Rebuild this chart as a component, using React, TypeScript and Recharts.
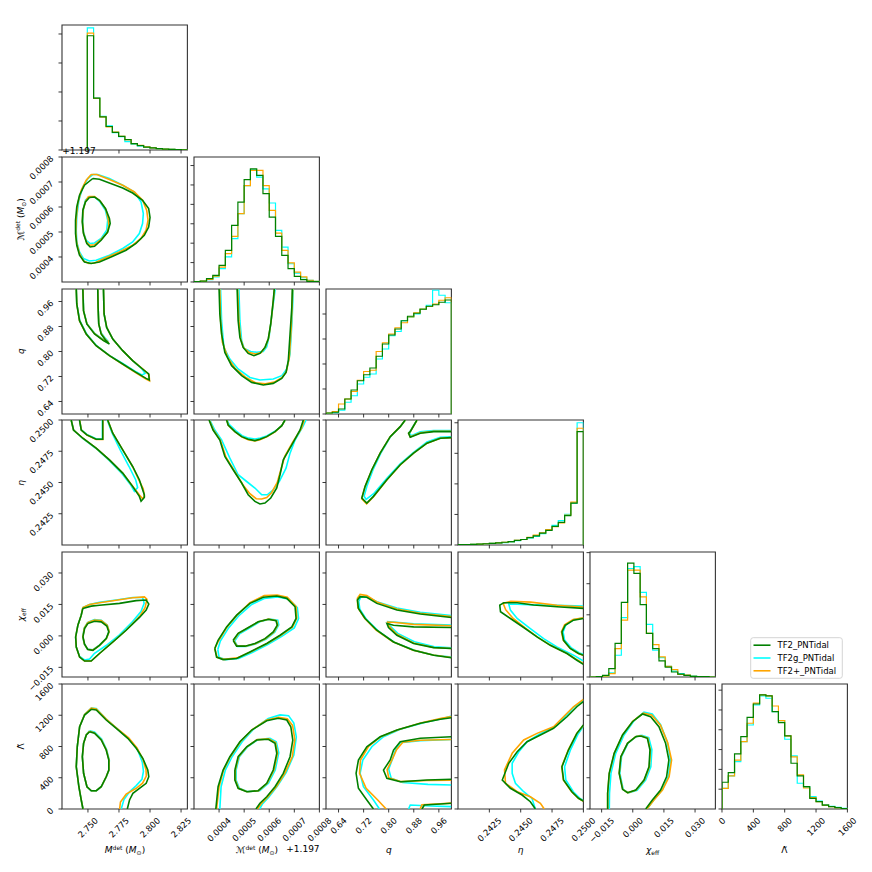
import React from 'react';
import { ComposedChart, Line, XAxis, YAxis, ReferenceArea } from 'recharts';

const FONT = 'DejaVu Sans';
const FS = 8.5;
const GREEN = '#008000';
const CYAN = '#00ffff';
const ORANGE = '#ffa500';
const SERIES = ['TF2_PNTidal', 'TF2g_PNTidal', 'TF2+_PNTidal'];

// ---------- axes: ticks and tick labels ----------
const M_TICKS = [2.75, 2.775, 2.8, 2.825];
const M_LABELS = ['2.750', '2.775', '2.800', '2.825'];
const MC_TICKS = [0.0004, 0.0005, 0.0006, 0.0007, 0.0008];
const MC_LABELS = ['0.0004', '0.0005', '0.0006', '0.0007', '0.0008'];
const Q_TICKS = [0.64, 0.72, 0.8, 0.88, 0.96];
const Q_LABELS = ['0.64', '0.72', '0.80', '0.88', '0.96'];
const ETA_TICKS = [0.2425, 0.245, 0.2475, 0.25];
const ETA_LABELS = ['0.2425', '0.2450', '0.2475', '0.2500'];
const CHI_TICKS = [-0.015, 0, 0.015, 0.03];
const CHI_LABELS = ['\u22120.015', '0.000', '0.015', '0.030'];
const LAM_TICKS = [0, 400, 800, 1200, 1600];
const LAM_LABELS = ['0', '400', '800', '1200', '1600'];

// ---------- 1D histograms (bin start, bin width, heights for TF2 / TF2g / TF2+) ----------
const mHistStart = 2.7495, mHistW = 0.00504;
const mHist_G = [3.94, 1.79, 1.14, 0.81, 0.61, 0.47, 0.36, 0.22, 0.15, 0.1, 0.07, 0.045, 0.03, 0.02, 0.01, 0.005];
const mHist_C = [4.21, 1.79, 1.16, 0.83, 0.6, 0.46, 0.29, 0.2, 0.14, 0.1, 0.07, 0.05, 0.03, 0.02, 0.01, 0.005];
const mHist_O = [4.03, 1.78, 1.14, 0.8, 0.62, 0.47, 0.36, 0.22, 0.16, 0.11, 0.07, 0.05, 0.03, 0.02, 0.01, 0.005];

const mcHistStart = 0.0003, mcHistW = 0.000025;
const mcHist_G = [0.02, 0.05, 0.17, 0.34, 0.86, 1.63, 2.92, 4.12, 5.27, 5.83, 5.49, 4.55, 3.34, 2.35, 1.37, 0.69, 0.29, 0.12, 0.03, 0.02];
const mcHist_C = [0.01, 0.03, 0.12, 0.26, 0.69, 1.29, 2.23, 3.52, 4.97, 5.78, 5.4, 4.8, 4.07, 2.66, 1.8, 0.94, 0.46, 0.22, 0.09, 0.03];
const mcHist_O = [0.01, 0.04, 0.14, 0.3, 0.77, 1.46, 2.35, 3.52, 4.97, 5.75, 5.75, 4.97, 3.69, 2.52, 1.63, 0.99, 0.51, 0.26, 0.09, 0.03];

const qHistStart = 0.6, qHistW = 0.02;
const qHist_G = [0.04, 0.07, 0.2, 0.6, 0.96, 1.33, 1.57, 1.84, 2.31, 2.8, 3.16, 3.4, 3.73, 3.91, 4.03, 4.19, 4.31, 4.37, 4.47, 4.56];
const qHist_C = [0.03, 0.05, 0.15, 0.47, 0.73, 1.2, 1.47, 1.6, 2.2, 2.6, 3.13, 3.3, 3.73, 3.87, 4.0, 4.2, 4.35, 4.95, 4.75, 4.45];
const qHist_O = [0.04, 0.1, 0.4, 0.6, 0.9, 1.35, 1.7, 1.75, 2.5, 2.85, 3.2, 3.45, 3.65, 3.88, 4.05, 4.2, 4.3, 4.4, 4.55, 4.65];

const etaHistStart = 0.24, etaHistW = 0.0005;
const etaHist_G = [0.01, 0.015, 0.02, 0.03, 0.04, 0.05, 0.07, 0.09, 0.11, 0.15, 0.18, 0.24, 0.3, 0.39, 0.48, 0.61, 0.74, 0.96, 1.37, 3.71];
const etaHist_C = [0.01, 0.015, 0.02, 0.03, 0.04, 0.05, 0.06, 0.08, 0.1, 0.14, 0.18, 0.23, 0.28, 0.37, 0.5, 0.64, 0.8, 1.0, 1.37, 4.0];
const etaHist_O = [0.01, 0.015, 0.02, 0.03, 0.04, 0.05, 0.07, 0.09, 0.11, 0.15, 0.18, 0.25, 0.32, 0.4, 0.5, 0.6, 0.72, 0.98, 1.4, 3.82];

const chiHistStart = -0.0206, chiHistW = 0.00302;
const chiHist_G = [0, 0.01, 0.05, 0.27, 1.08, 2.4, 3.66, 3.33, 2.33, 1.4, 0.91, 0.52, 0.32, 0.16, 0.09, 0.05, 0.02, 0.01, 0.01, 0];
const chiHist_C = [0, 0.01, 0.02, 0.13, 0.7, 1.91, 3.49, 3.55, 2.72, 1.69, 0.86, 0.62, 0.34, 0.19, 0.11, 0.05, 0.03, 0.01, 0.01, 0];
const chiHist_O = [0, 0.01, 0.03, 0.11, 0.91, 1.83, 3.44, 3.44, 2.58, 1.4, 1.04, 0.65, 0.34, 0.24, 0.08, 0.06, 0.02, 0.01, 0.01, 0];

const lamHistStart = 0, lamHistW = 80;
const lamHist_G = [1.35, 1.84, 2.78, 3.65, 4.63, 5.3, 5.76, 5.71, 4.92, 4.36, 3.69, 2.31, 1.67, 1.13, 0.54, 0.37, 0.2, 0.12, 0.07, 0.02];
const lamHist_C = [1.04, 1.67, 2.39, 3.4, 4.24, 5.25, 5.71, 5.59, 4.92, 4.46, 3.52, 2.68, 1.3, 1.1, 0.62, 0.4, 0.22, 0.13, 0.08, 0.03];
const lamHist_O = [1.04, 1.67, 2.47, 3.4, 4.33, 5.34, 5.76, 5.71, 5.2, 4.46, 3.69, 2.63, 1.72, 1.06, 0.57, 0.37, 0.2, 0.12, 0.07, 0.02];

// ---------- 2D credible contours ([x, y] in data units) ----------
// Mc (offset +1.197) vs Mdet
const mcM_G1 = [[2.7539,0.000714],[2.7593,0.000711],[2.7673,0.000696],[2.778,0.000676],[2.786,0.000656],[2.794,0.000627],[2.7989,0.000594],[2.8,0.000558],[2.7989,0.00052],[2.7954,0.000487],[2.7887,0.000454],[2.7807,0.000427],[2.77,0.000403],[2.7593,0.00038],[2.7526,0.000374],[2.7472,0.00038],[2.7432,0.000407],[2.741,0.000447],[2.74,0.000494],[2.74,0.000547],[2.741,0.0006],[2.7432,0.000647],[2.7472,0.000687],[2.7539,0.000714]];
const mcM_G2 = [[2.7512,0.000638],[2.7553,0.00064],[2.7593,0.000627],[2.7641,0.000594],[2.7673,0.000554],[2.7679,0.000534],[2.7659,0.0005],[2.7606,0.000467],[2.7553,0.000443],[2.7518,0.00044],[2.7491,0.000454],[2.7464,0.000494],[2.7454,0.00054],[2.7459,0.000587],[2.748,0.00062],[2.7512,0.000638]];
const mcM_C1 = [[2.7539,0.00073],[2.7579,0.00073],[2.7673,0.000714],[2.778,0.000687],[2.7874,0.00066],[2.7928,0.00062],[2.7946,0.000574],[2.794,0.000534],[2.7914,0.000494],[2.786,0.00046],[2.778,0.000434],[2.7673,0.000407],[2.7566,0.000387],[2.7512,0.000384],[2.7464,0.000394],[2.7432,0.00042],[2.741,0.00046],[2.7406,0.000507],[2.741,0.00056],[2.7427,0.000627],[2.7459,0.00068],[2.7499,0.000714],[2.7539,0.00073]];
const mcM_C2 = [[2.7507,0.00064],[2.7553,0.00064],[2.7598,0.00062],[2.7641,0.000587],[2.7659,0.000547],[2.7651,0.000507],[2.7606,0.000474],[2.7553,0.000456],[2.7518,0.000454],[2.7486,0.000467],[2.7464,0.0005],[2.7459,0.000547],[2.7464,0.000594],[2.748,0.000627],[2.7507,0.00064]];
const mcM_O1 = [[2.7526,0.00073],[2.7571,0.00073],[2.7673,0.00071],[2.778,0.000687],[2.7874,0.00066],[2.794,0.000627],[2.7973,0.000587],[2.7984,0.000547],[2.7968,0.000507],[2.7928,0.000474],[2.786,0.000447],[2.7753,0.00042],[2.7647,0.000398],[2.7553,0.000376],[2.7507,0.000374],[2.7464,0.000384],[2.7432,0.000414],[2.741,0.000454],[2.7402,0.0005],[2.7406,0.000554],[2.7418,0.000614],[2.7446,0.000667],[2.7486,0.000707],[2.7526,0.00073]];
const mcM_O2 = [[2.7505,0.000642],[2.7553,0.000642],[2.7601,0.000622],[2.7645,0.00059],[2.7664,0.00055],[2.7668,0.000525],[2.7655,0.000497],[2.7604,0.00047],[2.7553,0.000449],[2.7515,0.000447],[2.7488,0.00046],[2.7464,0.000497],[2.7456,0.000545],[2.7462,0.00059],[2.7482,0.000625],[2.7505,0.000642]];

// q vs Mdet
const qM_G1 = [[2.7406,1.0],[2.741,0.952],[2.7432,0.8986],[2.7486,0.856],[2.7566,0.8186],[2.7673,0.7866],[2.778,0.76],[2.7887,0.7331],[2.7968,0.7139],[2.7994,0.7088],[2.7989,0.728],[2.794,0.744],[2.786,0.7706],[2.778,0.8026],[2.77,0.84],[2.7651,0.8771],[2.763,0.92],[2.7625,1.0]];
const qM_G2 = [[2.7459,1.0],[2.7464,0.9306],[2.7491,0.888],[2.7553,0.856],[2.7625,0.8346],[2.7673,0.824],[2.7641,0.8368],[2.7606,0.856],[2.7587,0.888],[2.7582,0.9411],[2.7579,1.0]];
const qM_C1 = [[2.7406,1.0],[2.741,0.952],[2.7435,0.8986],[2.749,0.856],[2.757,0.8186],[2.7675,0.7866],[2.778,0.762],[2.7875,0.738],[2.7935,0.725],[2.796,0.73],[2.7935,0.744],[2.786,0.7706],[2.778,0.8026],[2.77,0.84],[2.765,0.8771],[2.763,0.92],[2.7625,1.0]];
const qM_C2 = [[2.7459,1.0],[2.7466,0.93],[2.7493,0.888],[2.7555,0.858],[2.7625,0.838],[2.7655,0.836],[2.7635,0.845],[2.7606,0.86],[2.7587,0.888],[2.7582,0.9411],[2.7579,1.0]];
const qM_O1 = [[2.7406,1.0],[2.741,0.952],[2.7432,0.8986],[2.7486,0.856],[2.7566,0.8186],[2.7673,0.7866],[2.778,0.759],[2.7887,0.732],[2.7968,0.712],[2.7996,0.706],[2.7992,0.726],[2.7945,0.743],[2.786,0.7706],[2.778,0.8026],[2.77,0.84],[2.7651,0.8771],[2.763,0.92],[2.7625,1.0]];
const qM_O2 = [[2.7459,1.0],[2.7465,0.93],[2.7492,0.888],[2.7554,0.857],[2.7625,0.836],[2.7665,0.829],[2.7638,0.84],[2.7606,0.858],[2.7587,0.888],[2.7582,0.9411],[2.7579,1.0]];

// eta vs Mdet
const etaM_G1 = [[2.7365,0.25],[2.7384,0.2492],[2.7459,0.24854],[2.7566,0.24775],[2.7673,0.24681],[2.778,0.24575],[2.786,0.24469],[2.7914,0.24389],[2.7928,0.2435],[2.7954,0.2438],[2.7954,0.24402],[2.7914,0.24522],[2.786,0.24628],[2.778,0.24761],[2.77,0.24894],[2.7659,0.25]];
const etaM_G2 = [[2.7432,0.25],[2.7446,0.2492],[2.7491,0.24881],[2.7566,0.24846],[2.7619,0.24846],[2.7619,0.25]];
const etaM_C1 = [[2.7365,0.25],[2.7384,0.2492],[2.746,0.2485],[2.7566,0.24772],[2.7673,0.24675],[2.7775,0.2457],[2.7845,0.2448],[2.7874,0.2443],[2.79,0.2446],[2.7885,0.2452],[2.783,0.2463],[2.776,0.24761],[2.7695,0.24894],[2.7655,0.25]];
const etaM_C2 = [[2.7432,0.25],[2.7447,0.2492],[2.7492,0.24885],[2.7566,0.2485],[2.7617,0.2485],[2.7617,0.25]];
const etaM_O1 = [[2.7365,0.25],[2.7384,0.2492],[2.7459,0.24854],[2.7566,0.24775],[2.7673,0.24681],[2.778,0.24575],[2.786,0.2447],[2.7915,0.244],[2.794,0.2437],[2.7955,0.2439],[2.7945,0.2445],[2.7905,0.2453],[2.786,0.24628],[2.778,0.24761],[2.77,0.24894],[2.7659,0.25]];
const etaM_O2 = [[2.7433,0.25],[2.7447,0.2492],[2.7492,0.2488],[2.7566,0.24844],[2.762,0.24844],[2.762,0.25]];

// chi_eff vs Mdet
const chiM_G1 = [[2.7459,0.0131],[2.7526,0.0142],[2.7593,0.0146],[2.7754,0.0155],[2.7888,0.0168],[2.7969,0.0171],[2.799,0.0152],[2.7969,0.0123],[2.7915,0.0088],[2.7808,0.0027],[2.7701,-0.0029],[2.7593,-0.0084],[2.7526,-0.012],[2.7473,-0.012],[2.7433,-0.0101],[2.7406,-0.0053],[2.7401,-0.0005],[2.7419,0.0051],[2.7446,0.0099],[2.7459,0.0131]];
const chiM_G2 = [[2.7499,0.0059],[2.7553,0.007],[2.7607,0.0067],[2.7652,0.0047],[2.7668,0.0019],[2.7647,-0.0013],[2.7593,-0.0045],[2.754,-0.0069],[2.7499,-0.0065],[2.7473,-0.004],[2.746,-0.0005],[2.7473,0.0035],[2.7499,0.0059]];
const chiM_C1 = [[2.7446,0.0099],[2.7459,0.0135],[2.7513,0.015],[2.7593,0.016],[2.7727,0.0171],[2.786,0.0183],[2.794,0.0183],[2.7953,0.0156],[2.7927,0.0116],[2.786,0.0068],[2.7754,0.0005],[2.7647,-0.0046],[2.7553,-0.0083],[2.7513,-0.011],[2.7473,-0.0115],[2.7433,-0.0098],[2.7406,-0.0053],[2.7401,-0.0005],[2.7419,0.0051],[2.7446,0.0099]];
const chiM_C2 = [[2.7499,0.0065],[2.7553,0.0078],[2.7607,0.0075],[2.7655,0.0052],[2.767,0.0022],[2.765,-0.001],[2.7595,-0.0043],[2.754,-0.0066],[2.7495,-0.0063],[2.747,-0.0038],[2.7458,-0.0003],[2.747,0.0038],[2.7499,0.0065]];
const chiM_O1 = [[2.7446,0.0099],[2.7459,0.0135],[2.7513,0.015],[2.7593,0.0158],[2.7727,0.017],[2.786,0.0182],[2.7955,0.0186],[2.7975,0.0175],[2.796,0.0135],[2.7915,0.0092],[2.7808,0.0028],[2.7701,-0.0029],[2.7593,-0.0084],[2.7526,-0.012],[2.7473,-0.012],[2.7433,-0.0101],[2.7406,-0.0053],[2.7401,-0.0005],[2.7419,0.0051],[2.7446,0.0099]];
const chiM_O2 = [[2.7499,0.0064],[2.7553,0.0076],[2.7607,0.0073],[2.7655,0.0051],[2.7671,0.0021],[2.765,-0.0011],[2.7595,-0.0044],[2.754,-0.0067],[2.7497,-0.0064],[2.7471,-0.0039],[2.7459,-0.0004],[2.7471,0.0037],[2.7499,0.0064]];

// Lambda vs Mdet
const lamM_G1 = [[2.746,0],[2.7446,115],[2.7427,285],[2.7406,541],[2.7414,797],[2.7433,1053],[2.7473,1203],[2.7527,1276],[2.7567,1267],[2.7647,1139],[2.7728,1033],[2.7821,905],[2.7889,777],[2.7942,649],[2.7982,499],[2.799,413],[2.7969,329],[2.7915,265],[2.7862,201],[2.7835,115],[2.7817,0]];
const lamM_G2 = [[2.7513,989],[2.7553,969],[2.7607,883],[2.7647,755],[2.7668,627],[2.7668,499],[2.7647,413],[2.7607,285],[2.7567,234],[2.7527,234],[2.7492,285],[2.7465,457],[2.7455,669],[2.7465,841],[2.7487,947],[2.7513,989]];
const lamM_C1 = [[2.746,0],[2.7446,115],[2.7427,285],[2.7406,541],[2.7414,797],[2.7433,1053],[2.7473,1210],[2.7527,1292],[2.7567,1285],[2.7647,1150],[2.7728,1040],[2.7835,890],[2.79,760],[2.7938,600],[2.7947,480],[2.7935,380],[2.7889,300],[2.7835,220],[2.779,120],[2.7768,0]];
const lamM_C2 = [[2.7513,1000],[2.7553,985],[2.761,895],[2.765,760],[2.7672,627],[2.767,499],[2.7648,410],[2.7607,285],[2.7567,232],[2.7527,232],[2.7492,285],[2.7465,457],[2.7455,669],[2.7465,845],[2.7487,955],[2.7513,1000]];
const lamM_O1 = [[2.746,0],[2.7446,115],[2.7427,285],[2.7406,541],[2.7414,797],[2.7433,1053],[2.7473,1210],[2.7527,1292],[2.7567,1280],[2.7647,1150],[2.7728,1040],[2.7828,910],[2.7895,780],[2.7942,640],[2.7968,500],[2.797,420],[2.794,330],[2.7889,265],[2.7808,190],[2.7762,90],[2.7755,0]];
const lamM_O2 = [[2.7513,995],[2.7553,975],[2.7608,888],[2.7648,757],[2.767,627],[2.7669,499],[2.7647,412],[2.7607,285],[2.7567,233],[2.7527,233],[2.7492,285],[2.7465,457],[2.7455,669],[2.7465,843],[2.7487,950],[2.7513,995]];

// q vs Mc
const qMc_G1 = [[0.0004,1.0],[0.000403,0.92],[0.00041,0.856],[0.000423,0.797],[0.00045,0.7546],[0.00049,0.7226],[0.00053,0.7011],[0.000576,0.6928],[0.000616,0.6979],[0.00065,0.7139],[0.000667,0.7331],[0.000676,0.7706],[0.000683,0.856],[0.00069,0.9411],[0.000692,1.0]];
const qMc_G2 = [[0.000472,1.0],[0.000476,0.8986],[0.000483,0.8451],[0.000496,0.8131],[0.000516,0.7939],[0.000539,0.7866],[0.000563,0.7939],[0.000583,0.8131],[0.000596,0.84],[0.000606,0.888],[0.000616,0.9626],[0.00062,1.0]];
const qMc_C1 = [[0.000406,1.0],[0.00041,0.8986],[0.000419,0.8131],[0.000443,0.776],[0.000476,0.744],[0.000523,0.7171],[0.000563,0.7088],[0.000616,0.712],[0.00065,0.7226],[0.00067,0.744],[0.000683,0.792],[0.000691,0.8986],[0.000696,1.0]];
const qMc_C2 = [[0.000479,1.0],[0.000483,0.8986],[0.00049,0.835],[0.0005,0.81],[0.000526,0.8],[0.00055,0.7975],[0.000576,0.8],[0.00059,0.815],[0.0006,0.85],[0.000611,0.922],[0.000624,1.0]];
const qMc_O1 = [[0.000403,1.0],[0.000406,0.9],[0.000413,0.83],[0.000435,0.78],[0.000465,0.745],[0.000505,0.718],[0.000545,0.7],[0.000585,0.697],[0.00062,0.702],[0.00065,0.716],[0.000668,0.735],[0.00068,0.78],[0.000688,0.88],[0.000694,1.0]];
const qMc_O2 = [[0.000474,1.0],[0.000479,0.8986],[0.000486,0.84],[0.000498,0.812],[0.00052,0.797],[0.000545,0.792],[0.000568,0.797],[0.000585,0.815],[0.000598,0.845],[0.000608,0.9],[0.000621,1.0]];

// eta vs Mc
const etaMc_G1 = [[0.00036,0.25],[0.000376,0.2492],[0.000403,0.2484],[0.000423,0.24708],[0.000456,0.24602],[0.00049,0.24496],[0.000516,0.24402],[0.000543,0.24349],[0.000563,0.24328],[0.000583,0.24336],[0.000606,0.24376],[0.00063,0.24456],[0.000643,0.24562],[0.000656,0.24681],[0.00069,0.24801],[0.000723,0.24921],[0.000736,0.25]];
const etaMc_G2 = [[0.00043,0.25],[0.000436,0.2496],[0.000463,0.24907],[0.00049,0.24867],[0.000516,0.24846],[0.000543,0.24835],[0.000563,0.24846],[0.00059,0.24867],[0.000623,0.24907],[0.00065,0.24955],[0.000663,0.25]];
const etaMc_C1 = [[0.000363,0.25],[0.000383,0.2492],[0.00041,0.2484],[0.000443,0.24695],[0.000476,0.24562],[0.00051,0.24508],[0.000543,0.24456],[0.00057,0.24402],[0.000592,0.24402],[0.000616,0.24442],[0.00064,0.24508],[0.000667,0.24615],[0.000683,0.24735],[0.000703,0.2484],[0.000734,0.24947],[0.000747,0.25]];
const etaMc_C2 = [[0.000432,0.25],[0.00044,0.24965],[0.000466,0.24915],[0.000492,0.24875],[0.000518,0.24855],[0.000543,0.24848],[0.000565,0.24855],[0.00059,0.24872],[0.000623,0.2491],[0.00065,0.24955],[0.000663,0.25]];
const etaMc_O1 = [[0.000361,0.25],[0.000378,0.2492],[0.000405,0.2484],[0.000428,0.247],[0.000462,0.2459],[0.000496,0.24478],[0.000523,0.2441],[0.000548,0.2437],[0.00057,0.24368],[0.00059,0.2438],[0.00061,0.2442],[0.000632,0.245],[0.000646,0.246],[0.000662,0.2471],[0.000693,0.2482],[0.000728,0.2493],[0.00074,0.25]];
const etaMc_O2 = [[0.000431,0.25],[0.000437,0.24958],[0.000464,0.24905],[0.00049,0.24865],[0.000516,0.24843],[0.000543,0.24833],[0.000563,0.24843],[0.00059,0.24865],[0.000623,0.24905],[0.00065,0.24955],[0.000663,0.25]];

// chi_eff vs Mc
const chiMc_G1 = [[0.000383,-0.006],[0.000396,-0.0021],[0.00043,0.0043],[0.00047,0.0099],[0.000523,0.0155],[0.000576,0.0184],[0.00063,0.019],[0.00067,0.0179],[0.000703,0.0139],[0.000707,0.0083],[0.00069,0.0043],[0.000643,0.0003],[0.00059,-0.0036],[0.000523,-0.0077],[0.00047,-0.0108],[0.000416,-0.0113],[0.00039,-0.0101],[0.000383,-0.006]];
const chiMc_G2 = [[0.000456,-0.0021],[0.000476,0.0012],[0.00051,0.0035],[0.000556,0.0067],[0.000596,0.0079],[0.000627,0.0072],[0.000632,0.0051],[0.000616,0.0019],[0.000583,-0.0013],[0.000543,-0.0036],[0.000503,-0.0049],[0.00047,-0.0049],[0.000456,-0.0021]];
const chiMc_C1 = [[0.000395,-0.0065],[0.000405,-0.0025],[0.000438,0.0038],[0.000478,0.0095],[0.00053,0.015],[0.00058,0.0178],[0.000635,0.0186],[0.000678,0.0175],[0.000712,0.0135],[0.000717,0.0082],[0.0007,0.0038],[0.00065,-0.0002],[0.000596,-0.004],[0.00053,-0.008],[0.000478,-0.0108],[0.000425,-0.0113],[0.0004,-0.0102],[0.000395,-0.0065]];
const chiMc_C2 = [[0.000462,-0.0024],[0.000482,0.001],[0.000516,0.0034],[0.000562,0.0067],[0.000602,0.008],[0.000634,0.0075],[0.000638,0.0052],[0.000622,0.0018],[0.000588,-0.0015],[0.000548,-0.0038],[0.000508,-0.005],[0.000474,-0.005],[0.000462,-0.0024]];
const chiMc_O1 = [[0.000383,-0.006],[0.000398,-0.0023],[0.000432,0.0042],[0.000472,0.0099],[0.000523,0.0158],[0.00058,0.0192],[0.000632,0.0195],[0.000672,0.0184],[0.000707,0.014],[0.00071,0.0085],[0.000693,0.0043],[0.000645,0.0002],[0.000592,-0.0036],[0.000525,-0.0077],[0.000472,-0.0105],[0.00042,-0.0112],[0.000392,-0.0102],[0.000383,-0.006]];
const chiMc_O2 = [[0.000458,-0.0022],[0.000478,0.0012],[0.000512,0.0036],[0.000558,0.0068],[0.000598,0.008],[0.000629,0.0073],[0.000634,0.0051],[0.000618,0.0018],[0.000585,-0.0014],[0.000545,-0.0037],[0.000505,-0.0049],[0.000472,-0.0049],[0.000458,-0.0022]];

// Lambda vs Mc
const lamMc_G1 = [[0.000387,0],[0.000396,285],[0.000416,499],[0.000443,669],[0.000483,861],[0.00053,1011],[0.00059,1130],[0.000636,1161],[0.00067,1139],[0.000686,1053],[0.000694,883],[0.000683,669],[0.000656,457],[0.000623,285],[0.00059,157],[0.000563,73],[0.000547,0]];
const lamMc_G2 = [[0.000463,499],[0.000476,669],[0.00051,797],[0.00055,883],[0.000596,892],[0.000623,841],[0.00063,713],[0.000616,499],[0.00059,329],[0.000556,234],[0.00051,221],[0.000476,265],[0.000463,371],[0.000463,499]];
const lamMc_C1 = [[0.000403,0],[0.000408,285],[0.000425,499],[0.000452,669],[0.000492,861],[0.00054,1030],[0.000596,1160],[0.000643,1205],[0.000677,1195],[0.000698,1100],[0.000708,920],[0.000698,690],[0.000668,470],[0.000632,290],[0.000598,150],[0.000572,60],[0.000562,0]];
const lamMc_C2 = [[0.000468,499],[0.000481,669],[0.000515,800],[0.000556,890],[0.000603,905],[0.000628,860],[0.000638,720],[0.000624,499],[0.000597,330],[0.000562,235],[0.000515,222],[0.000481,265],[0.000468,371],[0.000468,499]];
const lamMc_O1 = [[0.00039,0],[0.0004,285],[0.000418,499],[0.000445,669],[0.000485,861],[0.000532,1015],[0.00059,1140],[0.000638,1175],[0.000672,1155],[0.000693,1070],[0.000702,890],[0.000692,669],[0.000662,455],[0.000628,285],[0.000593,150],[0.000567,65],[0.000553,0]];
const lamMc_O2 = [[0.000465,499],[0.000478,669],[0.000512,800],[0.000552,888],[0.000598,898],[0.000625,850],[0.000633,715],[0.000619,499],[0.000592,329],[0.000558,234],[0.000512,221],[0.000478,265],[0.000465,371],[0.000465,499]];

// eta vs q (two open branches)
const etaQ_GA = [[0.8528,0.25],[0.8368,0.24947],[0.8048,0.24867],[0.7728,0.24735],[0.7462,0.24602],[0.7248,0.24469],[0.7142,0.24376],[0.7302,0.24336],[0.7514,0.24389],[0.7942,0.24522],[0.8368,0.24642],[0.8794,0.24735],[0.9222,0.24815],[0.9648,0.24854],[1.0,0.24859]];
const etaQ_GB = [[0.8902,0.25],[0.8688,0.24907],[0.8634,0.24894],[0.8688,0.24862],[0.9008,0.24894],[0.9434,0.24907],[1.0,0.24907]];
const etaQ_CA = [[0.8528,0.25],[0.8368,0.24947],[0.806,0.24867],[0.775,0.24735],[0.75,0.24602],[0.7305,0.2447],[0.7215,0.2439],[0.728,0.24365],[0.752,0.2441],[0.795,0.24535],[0.8368,0.2465],[0.8794,0.24742],[0.9222,0.24825],[0.9648,0.24862],[1.0,0.24865]];
const etaQ_CB = [[0.8902,0.25],[0.8688,0.24912],[0.865,0.249],[0.872,0.24875],[0.9008,0.24905],[0.9434,0.24915],[1.0,0.24915]];
const etaQ_OA = [[0.8528,0.25],[0.8368,0.24947],[0.8048,0.24867],[0.7728,0.24735],[0.746,0.246],[0.7245,0.24465],[0.714,0.2437],[0.7295,0.2433],[0.751,0.24385],[0.794,0.2452],[0.8368,0.2464],[0.8794,0.24735],[0.9222,0.24815],[0.9648,0.24854],[1.0,0.24859]];
const etaQ_OB = [[0.8905,0.25],[0.869,0.24908],[0.8636,0.24895],[0.869,0.24865],[0.9008,0.24897],[0.9434,0.2491],[1.0,0.2491]];

// chi_eff vs q
const chiQ_G1 = [[1.0,0.0088],[0.9008,0.0104],[0.8262,0.0123],[0.7622,0.0155],[0.7302,0.0184],[0.7088,0.0187],[0.7002,0.0171],[0.7034,0.0131],[0.7248,0.0083],[0.7622,0.0027],[0.8154,-0.0029],[0.8794,-0.0069],[0.9434,-0.0092],[1.0,-0.0104]];
const chiQ_G2 = [[1.0,0.004],[0.8794,0.0043],[0.8154,0.0051],[0.7942,0.0059],[0.7994,0.004],[0.8262,0.0003],[0.8794,-0.0036],[0.9434,-0.0056],[1.0,-0.006]];
const chiQ_C1 = [[1.0,0.0097],[0.9008,0.0112],[0.8262,0.0133],[0.7622,0.0163],[0.7302,0.0187],[0.711,0.0185],[0.7045,0.0165],[0.708,0.0127],[0.729,0.0079],[0.7662,0.0024],[0.819,-0.0031],[0.8825,-0.0069],[0.946,-0.0092],[1.0,-0.0101]];
const chiQ_C2 = [[1.0,0.0052],[0.8794,0.0058],[0.8154,0.0066],[0.7975,0.0068],[0.8015,0.0052],[0.829,0.0012],[0.882,-0.0028],[0.946,-0.0052],[1.0,-0.0057]];
const chiQ_O1 = [[1.0,0.0092],[0.9008,0.0108],[0.8262,0.0128],[0.7622,0.0162],[0.7302,0.0192],[0.7088,0.0198],[0.7002,0.018],[0.7015,0.0135],[0.7225,0.0085],[0.76,0.0028],[0.8135,-0.0028],[0.878,-0.0068],[0.942,-0.0091],[1.0,-0.0103]];
const chiQ_O2 = [[1.0,0.0048],[0.8794,0.0055],[0.8154,0.0065],[0.797,0.0066],[0.8,0.0048],[0.826,0.0008],[0.8794,-0.0034],[0.9434,-0.0055],[1.0,-0.006]];

// Lambda vs q
const lamQ_G1 = [[0.7514,0],[0.7302,115],[0.7034,265],[0.696,457],[0.7034,627],[0.7302,797],[0.7728,925],[0.8262,1011],[0.9008,1097],[0.9648,1148],[1.0,1169]];
const lamQ_G1b = [[0.9062,0],[0.9136,51],[0.9648,64],[1.0,73]];
const lamQ_G2 = [[1.0,925],[0.9008,905],[0.8368,861],[0.8154,755],[0.8048,627],[0.7834,499],[0.7942,393],[0.8368,349],[0.9222,371],[1.0,380]];
const lamQ_C1 = [[0.7706,0],[0.7514,115],[0.7194,285],[0.7088,457],[0.7174,627],[0.7462,797],[0.7834,925],[0.8368,1020],[0.9114,1105],[0.9754,1161],[1.0,1190]];
const lamQ_C1b = [[0.8634,0],[0.8688,51],[0.9328,38],[1.0,30]];
const lamQ_C2 = [[1.0,890],[0.9008,875],[0.8368,850],[0.822,760],[0.812,640],[0.8,510],[0.808,395],[0.845,340],[0.925,315],[1.0,307]];
const lamQ_O1 = [[0.792,0],[0.765,115],[0.728,265],[0.707,457],[0.71,627],[0.735,797],[0.775,925],[0.83,1015],[0.905,1105],[0.968,1160],[1.0,1185]];
const lamQ_O1b = [[0.9,0],[0.906,55],[0.9648,68],[1.0,75]];
const lamQ_O2 = [[1.0,890],[0.9008,880],[0.845,855],[0.825,760],[0.812,640],[0.795,505],[0.8,400],[0.84,350],[0.922,365],[1.0,370]];

// chi_eff vs eta
const chiEta_G1 = [[0.25,0.0131],[0.24789,0.0139],[0.24603,0.0147],[0.24472,0.0158],[0.24365,0.0158],[0.24333,0.0147],[0.24339,0.0115],[0.24418,0.0083],[0.24524,0.004],[0.2463,-0.0005],[0.24736,-0.0045],[0.24869,-0.0084],[0.24948,-0.0116],[0.25,-0.0136]];
const chiEta_G2 = [[0.25,0.0083],[0.24921,0.0075],[0.24855,0.0051],[0.24829,0.0019],[0.24842,-0.0021],[0.24895,-0.006],[0.24961,-0.0084],[0.25,-0.0092]];
const chiEta_C1 = [[0.25,0.0142],[0.24789,0.0146],[0.24603,0.0148],[0.24472,0.0151],[0.24405,0.0152],[0.24418,0.0123],[0.24472,0.0083],[0.24577,0.0035],[0.24683,-0.0013],[0.24789,-0.0053],[0.24921,-0.0092],[0.25,-0.012]];
const chiEta_C2 = [[0.25,0.0085],[0.24925,0.0078],[0.2486,0.0053],[0.24838,0.0019],[0.2485,-0.002],[0.24905,-0.0058],[0.24968,-0.0081],[0.25,-0.0088]];
const chiEta_O1 = [[0.25,0.0138],[0.24789,0.0146],[0.2458,0.0161],[0.2442,0.0165],[0.2436,0.0155],[0.2438,0.0125],[0.2444,0.0083],[0.24535,0.0038],[0.2464,-0.0008],[0.24745,-0.0047],[0.24875,-0.0085],[0.2495,-0.0114],[0.25,-0.0132]];
const chiEta_O2 = [[0.25,0.0086],[0.24918,0.0078],[0.2485,0.0053],[0.24825,0.0019],[0.2484,-0.0021],[0.24895,-0.006],[0.2496,-0.0084],[0.25,-0.0092]];

// Lambda vs eta
const lamEta_G1 = [[0.25,1373],[0.24948,1309],[0.24869,1181],[0.24762,1033],[0.24657,947],[0.24551,861],[0.24472,733],[0.24405,585],[0.24353,371],[0.24418,265],[0.24511,179],[0.24577,93],[0.24617,0]];
const lamEta_G2 = [[0.25,1075],[0.24948,968],[0.24881,755],[0.24829,541],[0.24842,371],[0.24908,221],[0.24961,137],[0.25,102]];
const lamEta_C1 = [[0.25,1390],[0.24921,1300],[0.24789,1070],[0.24657,965],[0.24551,861],[0.24485,733],[0.24432,585],[0.24432,457],[0.24458,329],[0.24524,221],[0.2459,136],[0.24617,0]];
const lamEta_C2 = [[0.25,1060],[0.24958,960],[0.24895,750],[0.2485,541],[0.2486,371],[0.2492,221],[0.2497,140],[0.25,110]];
const lamEta_O1 = [[0.25,1404],[0.24921,1309],[0.24762,1053],[0.2463,968],[0.24524,883],[0.24432,713],[0.24371,499],[0.24379,329],[0.24472,221],[0.24577,157],[0.24657,73],[0.24688,0]];
const lamEta_O2 = [[0.25,1070],[0.24946,965],[0.24879,755],[0.24827,541],[0.2484,371],[0.24906,221],[0.2496,137],[0.25,100]];

// Lambda vs chi_eff
const lamChi_G1 = [[-0.0121,0],[-0.0121,201],[-0.01135,457],[-0.00896,713],[-0.00493,947],[-0.00014,1117],[0.00465,1216],[0.00862,1181],[0.0126,1053],[0.01581,841],[0.01739,627],[0.01629,413],[0.01341,243],[0.00944,115],[0.00623,0]];
const lamChi_G2 = [[0.00383,934],[0.00704,905],[0.00829,755],[0.00781,541],[0.00541,371],[0.00144,243],[-0.00254,209],[-0.00493,252],[-0.00656,457],[-0.00575,669],[-0.00254,841],[0.00144,925],[0.00383,934]];
const lamChi_C1 = [[-0.0113,0],[-0.0112,201],[-0.0105,457],[-0.0082,713],[-0.0042,947],[0.0006,1130],[0.0054,1240],[0.0094,1215],[0.0134,1080],[0.0166,860],[0.0182,627],[0.0171,413],[0.0141,243],[0.0101,115],[0.0069,0]];
const lamChi_C2 = [[0.0043,945],[0.0077,915],[0.0092,760],[0.0087,541],[0.0062,371],[0.0021,240],[-0.0021,205],[-0.0046,250],[-0.0062,457],[-0.0054,669],[-0.0022,845],[0.0018,930],[0.0043,945]];
const lamChi_O1 = [[-0.0121,0],[-0.0121,201],[-0.0113,457],[-0.0089,713],[-0.0048,950],[0.0001,1125],[0.0051,1228],[0.0091,1205],[0.0133,1075],[0.0168,850],[0.0187,627],[0.0175,413],[0.0143,243],[0.0102,115],[0.0068,0]];
const lamChi_O2 = [[0.0039,938],[0.0072,908],[0.0085,755],[0.008,541],[0.0056,371],[0.0016,243],[-0.0024,208],[-0.0048,252],[-0.0065,457],[-0.0057,669],[-0.0025,843],[0.0015,928],[0.0039,938]];

// ---------- layout ----------
const PW = 125.4;
const PH = 125;
const COL_LEFT = [62.3, 194.2, 326.1, 457.9, 589.8, 721.7];
const ROW_TOP = [25, 156.8, 288.6, 420.4, 552.2, 684];

const AXES = [
  { dx: [2.7291, 2.8301], dy: [2.7291, 2.8301], ticks: M_TICKS, labels: M_LABELS },
  { dx: [0.0003, 0.0008], dy: [0.0003, 0.0008], ticks: MC_TICKS, labels: MC_LABELS },
  { dx: [0.6, 1.0], dy: [0.6, 1.0], ticks: Q_TICKS, labels: Q_LABELS },
  { dx: [0.24, 0.25], dy: [0.24, 0.25], ticks: ETA_TICKS, labels: ETA_LABELS },
  { dx: [-0.0206, 0.0398], dy: [-0.0196, 0.04], ticks: CHI_TICKS, labels: CHI_LABELS },
  { dx: [0, 1600], dy: [0, 1600], ticks: LAM_TICKS, labels: LAM_LABELS },
];

const COLORS = [CYAN, ORANGE, GREEN]; // drawing order: TF2g, TF2+, TF2 on top

const OFFDIAG = [
  { r: 1, c: 0, sets: [[mcM_C1, mcM_C2], [mcM_O1, mcM_O2], [mcM_G1, mcM_G2]] },
  { r: 2, c: 0, sets: [[qM_C1, qM_C2], [qM_O1, qM_O2], [qM_G1, qM_G2]] },
  { r: 3, c: 0, sets: [[etaM_C1, etaM_C2], [etaM_O1, etaM_O2], [etaM_G1, etaM_G2]] },
  { r: 4, c: 0, sets: [[chiM_C1, chiM_C2], [chiM_O1, chiM_O2], [chiM_G1, chiM_G2]] },
  { r: 5, c: 0, sets: [[lamM_C1, lamM_C2], [lamM_O1, lamM_O2], [lamM_G1, lamM_G2]] },
  { r: 2, c: 1, sets: [[qMc_C1, qMc_C2], [qMc_O1, qMc_O2], [qMc_G1, qMc_G2]] },
  { r: 3, c: 1, sets: [[etaMc_C1, etaMc_C2], [etaMc_O1, etaMc_O2], [etaMc_G1, etaMc_G2]] },
  { r: 4, c: 1, sets: [[chiMc_C1, chiMc_C2], [chiMc_O1, chiMc_O2], [chiMc_G1, chiMc_G2]] },
  { r: 5, c: 1, sets: [[lamMc_C1, lamMc_C2], [lamMc_O1, lamMc_O2], [lamMc_G1, lamMc_G2]] },
  { r: 3, c: 2, sets: [[etaQ_CA, etaQ_CB], [etaQ_OA, etaQ_OB], [etaQ_GA, etaQ_GB]] },
  { r: 4, c: 2, sets: [[chiQ_C1, chiQ_C2], [chiQ_O1, chiQ_O2], [chiQ_G1, chiQ_G2]] },
  { r: 5, c: 2, sets: [[lamQ_C1, lamQ_C1b, lamQ_C2], [lamQ_O1, lamQ_O1b, lamQ_O2], [lamQ_G1, lamQ_G1b, lamQ_G2]] },
  { r: 4, c: 3, sets: [[chiEta_C1, chiEta_C2], [chiEta_O1, chiEta_O2], [chiEta_G1, chiEta_G2]] },
  { r: 5, c: 3, sets: [[lamEta_C1, lamEta_C2], [lamEta_O1, lamEta_O2], [lamEta_G1, lamEta_G2]] },
  { r: 5, c: 4, sets: [[lamChi_C1, lamChi_C2], [lamChi_O1, lamChi_O2], [lamChi_G1, lamChi_G2]] },
];

const DIAG = [
  { k: 0, start: mHistStart, w: mHistW, hists: [mHist_C, mHist_O, mHist_G], yMax: 4.31, yTicks: [0, 1, 2, 3, 4] },
  { k: 1, start: mcHistStart, w: mcHistW, hists: [mcHist_C, mcHist_O, mcHist_G], yMax: 6.44, yTicks: [0, 1, 2, 3, 4, 5, 6] },
  { k: 2, start: qHistStart, w: qHistW, hists: [qHist_C, qHist_O, qHist_G], yMax: 5.0, yTicks: [0, 1, 2, 3, 4] },
  { k: 3, start: etaHistStart, w: etaHistW, hists: [etaHist_C, etaHist_O, etaHist_G], yMax: 4.09, yTicks: [0, 1, 2, 3, 4] },
  { k: 4, start: chiHistStart, w: chiHistW, hists: [chiHist_C, chiHist_O, chiHist_G], yMax: 4.02, yTicks: [0, 1, 2, 3, 4] },
  { k: 5, start: lamHistStart, w: lamHistW, hists: [lamHist_C, lamHist_O, lamHist_G], yMax: 6.31, yTicks: [0, 1, 2, 3, 4, 5, 6] },
];

const toPts = (a: number[][]) => a.map(([x, y]) => ({ x, y }));
const histPts = (start: number, w: number, h: number[]) => {
  const out = [{ x: start, y: 0 }];
  h.forEach((v, i) => out.push({ x: start + i * w, y: v }));
  out.push({ x: start + h.length * w, y: 0 });
  return out;
};

const charW = (s: string) => {
  let w = 0;
  for (const ch of s) w += ch === '.' ? 0.318 : ch === '\u2212' ? 0.838 : 0.636;
  return w * FS;
};

const findLabel = (tv: number[], labels: string[] | null, v: number) => {
  if (!labels) return null;
  const i = tv.findIndex((t) => Math.abs(t - v) < 1e-9);
  return i >= 0 ? labels[i] : null;
};

function XTick(p: any) {
  const s = findLabel(p.tv, p.lbl, p.payload.value);
  if (!s) return <g />;
  const x = p.x;
  const cy = p.axisY + 7 + (charW(s) + FS) / 2.83;
  return (
    <text x={x} y={cy} textAnchor="middle" dominantBaseline="central" fontSize={FS} fontFamily={FONT} fill="#000"
      transform={`rotate(-45 ${x} ${cy})`}>{s}</text>
  );
}

function YTick(p: any) {
  const s = findLabel(p.tv, p.lbl, p.payload.value);
  if (!s) return <g />;
  const ax = p.axisX - 10;
  const y = p.y;
  return (
    <text x={ax} y={y} textAnchor="end" dominantBaseline="central" fontSize={FS} fontFamily={FONT} fill="#000"
      transform={`rotate(-45 ${ax} ${y})`}>{s}</text>
  );
}

type Curve = { data: { x: number; y: number }[]; color: string; w: number; type: 'linear' | 'stepAfter'; name: string };

function Panel({ r, c, xDom, yDom, xTicks, yTicks, xLab, yLab, curves }: any) {
  const padL = c === 0 ? 62 : 10;
  const padB = r === 5 ? 62 : c === 0 ? 32 : 10;
  const padT = 4;
  const padR = r === 5 ? 24 : 4;
  const w = padL + PW + padR;
  const h = padT + PH + padB;
  const axisY = padT + PH;
  return (
    <div style={{ position: 'absolute', left: COL_LEFT[c] - padL, top: ROW_TOP[r] - padT, width: w, height: h }}>
      <ComposedChart width={w} height={h} margin={{ top: padT, right: padR, bottom: 0, left: 0 }}>
        <XAxis type="number" dataKey="x" domain={xDom} ticks={xTicks} allowDataOverflow interval={0} height={padB}
          axisLine={false} tickSize={3.5} tickLine={{ stroke: '#222', strokeWidth: 0.9 }}
          tick={(p: any) => <XTick {...p} axisY={axisY} tv={xTicks} lbl={xLab} />} />
        <YAxis type="number" domain={yDom} ticks={yTicks} allowDataOverflow interval={0} width={padL}
          axisLine={false} tickSize={3.5} tickLine={{ stroke: '#222', strokeWidth: 0.9 }}
          tick={(p: any) => <YTick {...p} axisX={padL} tv={yTicks} lbl={yLab} />} />
        {curves.map((cv: Curve, i: number) => (
          <Line key={i} data={cv.data} dataKey="y" name={cv.name} type={cv.type} stroke={cv.color} strokeWidth={cv.w}
            dot={false} activeDot={false} isAnimationActive={false} />
        ))}
        <ReferenceArea x1={xDom[0]} x2={xDom[1]} y1={yDom[0]} y2={yDom[1]} fill="none" stroke="#333" strokeWidth={1.1}
          ifOverflow="visible" />
      </ComposedChart>
    </div>
  );
}

const SERIES_FOR_COLOR: Record<string, string> = { [GREEN]: SERIES[0], [CYAN]: SERIES[1], [ORANGE]: SERIES[2] };

function AxisTitle({ k, x, y, vertical }: { k: number; x: number; y: number; vertical?: boolean }) {
  const tf = vertical ? `rotate(-90 ${x} ${y})` : undefined;
  const common = { x, y, textAnchor: 'middle' as const, dominantBaseline: 'central' as const, fontSize: 9, fontFamily: FONT, fill: '#000', transform: tf };
  if (k === 0 || k === 1) {
    return (
      <text {...common}>
        {k === 0 ? <tspan fontStyle="italic">M</tspan> : <tspan>{'\u2133'}</tspan>}
        <tspan fontSize={6} dy={-3.5}>det</tspan>
        <tspan dy={3.5}>{' ('}</tspan>
        <tspan fontStyle="italic">M</tspan>
        <tspan fontSize={6} dy={2}>{'\u2299'}</tspan>
        <tspan dy={-2}>)</tspan>
      </text>
    );
  }
  if (k === 2) return <text {...common} fontStyle="italic">q</text>;
  if (k === 3) return <text {...common} fontStyle="italic">{'\u03b7'}</text>;
  if (k === 4)
    return (
      <text {...common}>
        <tspan fontStyle="italic">{'\u03c7'}</tspan>
        <tspan fontSize={6} dy={2}>eff</tspan>
      </text>
    );
  return <text {...common}>{'\u039b\u0303'}</text>;
}

export default function App() {
  const panels: any[] = [];
  OFFDIAG.forEach((p) => {
    const curves: Curve[] = [];
    p.sets.forEach((arrs, k) =>
      arrs.forEach((a) => curves.push({ data: toPts(a), color: COLORS[k], w: 1.6, type: 'linear', name: SERIES_FOR_COLOR[COLORS[k]] }))
    );
    panels.push(
      <Panel key={`o${p.r}${p.c}`} r={p.r} c={p.c} xDom={AXES[p.c].dx} yDom={AXES[p.r].dy}
        xTicks={AXES[p.c].ticks} yTicks={AXES[p.r].ticks}
        xLab={p.r === 5 ? AXES[p.c].labels : null} yLab={p.c === 0 ? AXES[p.r].labels : null} curves={curves} />
    );
  });
  DIAG.forEach((d) => {
    const curves: Curve[] = d.hists.map((h, k) => ({
      data: histPts(d.start, d.w, h), color: COLORS[k], w: 1.2, type: 'stepAfter', name: SERIES_FOR_COLOR[COLORS[k]],
    }));
    panels.push(
      <Panel key={`d${d.k}`} r={d.k} c={d.k} xDom={AXES[d.k].dx} yDom={[0, d.yMax]} xTicks={AXES[d.k].ticks}
        yTicks={d.yTicks} xLab={d.k === 5 ? AXES[d.k].labels : null} yLab={null} curves={curves} />
    );
  });

  const legendItems = [
    { name: SERIES[0], color: GREEN },
    { name: SERIES[1], color: CYAN },
    { name: SERIES[2], color: ORANGE },
  ];

  return (
    <div style={{ position: 'absolute', left: 0, top: 0, width: 872, height: 872, background: '#fff', fontFamily: FONT }}>
      {panels}
      <svg width={872} height={872} style={{ position: 'absolute', left: 0, top: 0, pointerEvents: 'none' }}>
        {[0, 1, 2, 3, 4, 5].map((k) => (
          <AxisTitle key={`xt${k}`} k={k} x={COL_LEFT[k] + PW / 2} y={850} />
        ))}
        {[1, 2, 3, 4, 5].map((k) => (
          <AxisTitle key={`yt${k}`} k={k} x={21} y={ROW_TOP[k] + PH / 2} vertical />
        ))}
        <text x={COL_LEFT[1] + PW} y={849} textAnchor="end" dominantBaseline="central" fontSize={9} fontFamily={FONT}>+1.197</text>
        <text x={COL_LEFT[0]} y={150.5} textAnchor="start" dominantBaseline="central" fontSize={9} fontFamily={FONT}>+1.197</text>
        <g>
          <rect x={750.7} y={637.7} width={91.6} height={40.6} rx={2.5} fill="#fff" fillOpacity={0.85} stroke="#d0d0d0" strokeWidth={0.9} />
          {legendItems.map((it, i) => (
            <g key={it.name}>
              <line x1={753.5} x2={770.5} y1={645.2 + i * 12.8} y2={645.2 + i * 12.8} stroke={it.color} strokeWidth={1.6} />
              <text x={777.5} y={645.2 + i * 12.8} dominantBaseline="central" fontSize={8.5} fontFamily={FONT} fill="#000">{it.name}</text>
            </g>
          ))}
        </g>
      </svg>
    </div>
  );
}
